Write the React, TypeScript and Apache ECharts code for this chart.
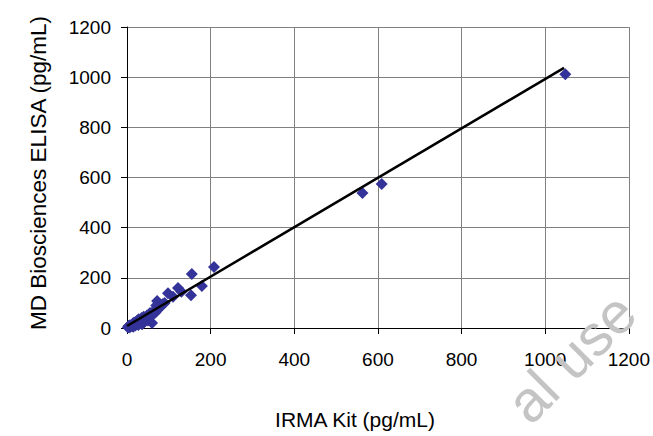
import React, { useEffect, useRef } from "react";
import * as echarts from "echarts";

const xTicks = [0, 200, 400, 600, 800, 1000, 1200];
const yTicks = [0, 200, 400, 600, 800, 1000, 1200];

// IRMA Kit (x) vs MD Biosciences ELISA (y), pg/mL
const irma = [
  2, 4, 5, 6, 8, 10, 12, 14, 15, 17, 18, 20, 22, 24, 25, 27, 28, 30, 32, 35,
  36, 38, 40, 42, 45, 48, 50, 52, 55, 58, 60, 62, 65, 68, 70, 72, 75, 80, 85,
  90, 98, 110, 122, 130, 153, 155, 179, 208, 563, 609, 1048,
];
const elisa = [
  3, 8, 2, 10, 5, 12, 8, 18, 5, 22, 14, 10, 25, 18, 30, 12, 35, 22, 28, 40,
  15, 32, 45, 25, 38, 50, 30, 42, 60, 48, 20, 55, 70, 62, 90, 108, 75, 85, 95,
  100, 139, 125, 159, 145, 131, 215, 167, 243, 538, 574, 1012,
];

const trendX = [0, 1045];
const trendY = [8, 1037];

const FONT = "'Liberation Sans', Arial, sans-serif";

export default function App() {
  const ref = useRef<HTMLDivElement>(null);
  useEffect(() => {
    document.body.style.margin = "0";
    if (!ref.current) return;
    const chart = echarts.init(ref.current, null, { renderer: "svg" });
    const points = irma.map((x, i) => [x, elisa[i]]);
    const trend = trendX.map((x, i) => [x, trendY[i]]);
    const axisCommon = {
      type: "value" as const,
      min: xTicks[0],
      max: xTicks[xTicks.length - 1],
      interval: 200,
      axisLine: { show: true, onZero: false, lineStyle: { color: "#000", width: 1 } },
      axisTick: { show: true, length: 6, lineStyle: { color: "#000" } },
      splitLine: { show: true, lineStyle: { color: "#808080", width: 1 } },
    };
    chart.setOption({
      animation: false,
      backgroundColor: "#fff",
      grid: { left: 127, right: 23, top: 27, bottom: 108, containLabel: false },
      xAxis: {
        ...axisCommon,
        axisLabel: {
          margin: 22,
          color: "#000",
          fontSize: 19,
          fontFamily: FONT,
          formatter: (v: number) => String(v),
        },
      },
      yAxis: {
        ...axisCommon,
        min: yTicks[0],
        max: yTicks[yTicks.length - 1],
        axisLabel: {
          margin: 16,
          color: "#000",
          fontSize: 19,
          fontFamily: FONT,
          formatter: (v: number) => String(v),
        },
      },
      series: [
        {
          type: "scatter",
          data: points,
          symbol: "diamond",
          symbolSize: 12,
          itemStyle: { color: "#333399", opacity: 1 },
          z: 2,
        },
        {
          type: "line",
          data: trend,
          symbol: "none",
          lineStyle: { color: "#000", width: 2.5 },
          z: 3,
        },
      ],
      graphic: [
        {
          type: "text",
          x: 355,
          y: 419,
          style: {
            text: "IRMA Kit (pg/mL)",
            fontSize: 21,
            fontFamily: FONT,
            fill: "#000",
            textAlign: "center",
            textVerticalAlign: "middle",
          },
        },
        {
          type: "text",
          x: 38,
          y: 173,
          rotation: Math.PI / 2,
          style: {
            text: "MD Biosciences ELISA (pg/mL)",
            fontSize: 22.5,
            fontFamily: FONT,
            fill: "#000",
            textAlign: "center",
            textVerticalAlign: "middle",
          },
        },
        {
          type: "text",
          x: 537,
          y: 433,
          rotation: (45 * Math.PI) / 180,
          style: {
            text: "al use",
            fontSize: 58,
            fontFamily: FONT,
            fill: "#c4c4c4",
            textAlign: "left",
            textVerticalAlign: "bottom",
          },
          z: 10,
        },
      ],
    });
    return () => chart.dispose();
  }, []);
  return <div ref={ref} style={{ width: 653, height: 436 }} />;
}
